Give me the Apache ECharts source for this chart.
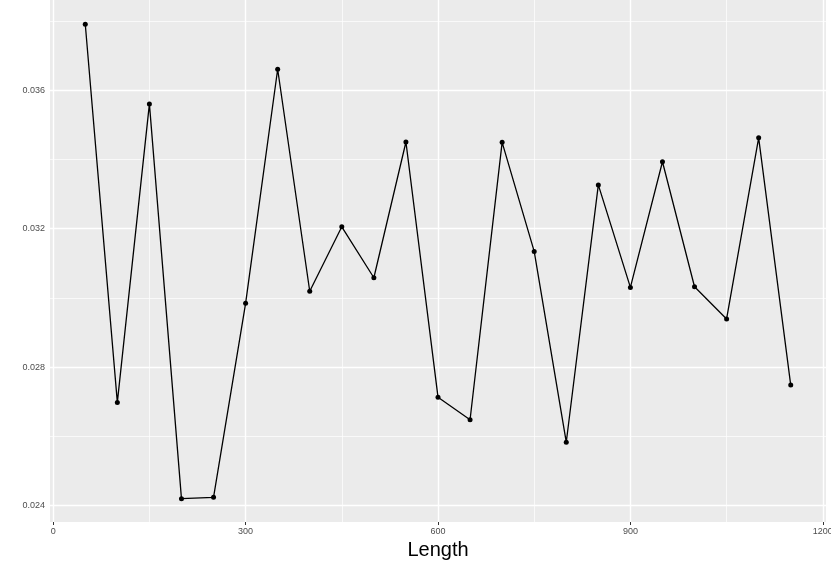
<!DOCTYPE html>
<html>
<head>
<meta charset="utf-8">
<script src="https://cdn.jsdelivr.net/npm/echarts@6/dist/echarts.min.js"></script>
<style>
  html, body { margin: 0; padding: 0; background: #fff; }
  #box { width: 831px; height: 561px; }
</style>
</head>
<body>
<div id="box"></div>
<script>
// values
const lengths = [50, 100, 150, 200, 250, 300, 350, 400, 450, 500, 550, 600,
  650, 700, 750, 800, 850, 900, 950, 1000, 1050, 1100, 1150];
const values = [0.03790, 0.02698, 0.03560, 0.02420, 0.02424, 0.02984, 0.03660,
  0.03019, 0.03205, 0.03058, 0.03450, 0.02713, 0.02648, 0.03449, 0.03134,
  0.02583, 0.03326, 0.03030, 0.03393, 0.03032, 0.02939, 0.03462, 0.02748];

const xTicks = [0, 300, 600, 900, 1200];
const xMinor = [150, 450, 750, 1050];
const yTicks = [0.024, 0.028, 0.032, 0.036];
const yMinor = [0.026, 0.030, 0.034, 0.038];

const chartDom = document.getElementById('box');
const myChart = echarts.init(chartDom);

// white ggplot-style grid lines, drawn as mark lines under the data
const gridLines = (key, vals, w) => vals.map(v => [
  { coord: key === 'x' ? [v, 0.023526] : [-5, v], lineStyle: { color: '#fff', width: w, type: 'solid' } },
  { coord: key === 'x' ? [v, 0.0386] : [1205, v] }
]);

const option = {
  animation: false,
  backgroundColor: '#fff',
  grid: {
    left: 50, right: 5, top: 0, bottom: 39,
    outerBoundsMode: 'none', containLabel: false,
    show: true, backgroundColor: '#EBEBEB', borderWidth: 0
  },
  xAxis: {
    type: 'value',
    min: -5,
    max: 1205,
    name: 'Length',
    nameLocation: 'middle',
    nameGap: 17,
    nameTextStyle: { fontSize: 20, color: '#000', fontFamily: 'Liberation Sans' },
    axisLine: { show: false },
    splitLine: { show: false },
    axisTick: { show: true, length: 3, lineStyle: { color: '#333' }, customValues: xTicks },
    axisLabel: {
      customValues: xTicks, fontSize: 9, color: '#4D4D4D', margin: 5, fontFamily: 'Liberation Sans',
      formatter: v => String(v)
    }
  },
  yAxis: {
    type: 'value',
    min: 0.023526,
    max: 0.0386,
    axisLine: { show: false },
    splitLine: { show: false },
    axisTick: { show: true, length: 3, lineStyle: { color: '#333' }, customValues: yTicks },
    axisLabel: {
      customValues: yTicks, fontSize: 9, color: '#4D4D4D', margin: 5, fontFamily: 'Liberation Sans',
      formatter: v => v.toFixed(3)
    }
  },
  series: [
    {
      type: 'line',
      z: 3,
      data: lengths.map((x, i) => [x, values[i]]),
      symbol: 'circle',
      symbolSize: 5,
      showSymbol: true,
      itemStyle: { color: '#000' },
      lineStyle: { color: '#000', width: 1.3 },
      markLine: {
        z: 1,
        silent: true,
        symbol: ['none', 'none'],
        label: { show: false },
        emphasis: { disabled: true },
        animation: false,
        data: [
          ...gridLines('x', xMinor, 0.7),
          ...gridLines('y', yMinor, 0.7),
          ...gridLines('x', xTicks, 1.4),
          ...gridLines('y', yTicks, 1.4)
        ]
      }
    }
  ]
};
option && myChart.setOption(option);
</script>
</body>
</html>
